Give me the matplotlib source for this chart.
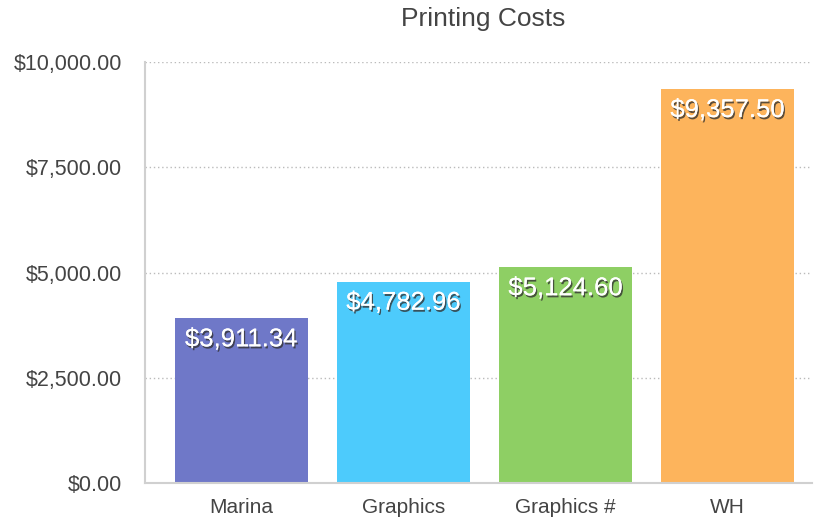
import matplotlib.pyplot as plt
import matplotlib.patheffects as pe
from matplotlib.ticker import FuncFormatter

categories = ["Marina", "Graphics", "Graphics #", "WH"]
costs = [3911.34, 4782.96, 5124.60, 9357.50]
colors = ["#6f78c8", "#4dcbfc", "#8ecf64", "#fdb45c"]

plt.rcParams['font.family'] = ['Liberation Sans', 'DejaVu Sans']

fig = plt.figure(figsize=(8.14, 5.2), dpi=100)
ax = fig.add_axes([145 / 814, 1 - 483 / 520, 667 / 814, (483 - 62) / 520])

x = range(len(categories))
bars = ax.bar(x, costs, width=0.82, color=colors, zorder=2)

for b, v in zip(bars, costs):
    t = ax.annotate("${:,.2f}".format(v), (b.get_x() + b.get_width() / 2, v),
                    xytext=(0, -21), textcoords="offset pixels",
                    ha="center", va="center", color="white", fontsize=18.5, zorder=3)
    t.set_path_effects([pe.withSimplePatchShadow(offset=(1, -1.5), shadow_rgbFace="#333333", alpha=0.8),
                        pe.Normal()])

ax.set_xlim(-0.595, 3.52)
ax.set_ylim(0, 10000)
ax.set_yticks([0, 2500, 5000, 7500, 10000])
ax.yaxis.set_major_formatter(FuncFormatter(lambda v, p: "${:,.2f}".format(v)))
ax.set_xticks(list(x))
ax.set_xticklabels(categories)
ax.tick_params(axis="both", length=0, labelsize=15, labelcolor="#444444")
ax.tick_params(axis="y", pad=16.5, labelsize=15.5)
ax.tick_params(axis="x", pad=11)

ax.grid(axis="y", linestyle=(0, (1, 2)), color="#bbbbbb", linewidth=1, zorder=0)
for s in ["top", "right"]:
    ax.spines[s].set_visible(False)
for s in ["left", "bottom"]:
    ax.spines[s].set_color("#d0d0d0")
    ax.spines[s].set_linewidth(1.5)

fig.text(483 / 814, 1 - 19 / 520, "Printing Costs", ha="center", va="center",
         fontsize=19, color="#444444")

fig.savefig("out.png", dpi=100)
